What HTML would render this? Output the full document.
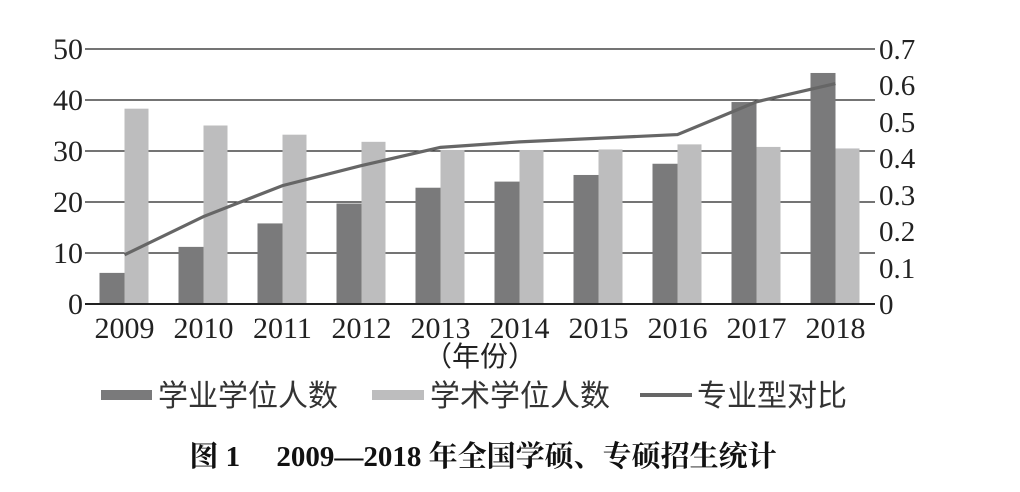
<!DOCTYPE html>
<html><head><meta charset="utf-8"><style>
html,body{margin:0;padding:0;background:#fff;width:1020px;height:492px;overflow:hidden}
</style></head><body>
<svg width="1020" height="492" xmlns="http://www.w3.org/2000/svg" font-family="'Liberation Serif','Noto Serif CJK SC',serif">
<g stroke="#222" stroke-width="1.3">
<line x1="85" y1="49" x2="875" y2="49"/>
<line x1="85" y1="100" x2="875" y2="100"/>
<line x1="85" y1="151" x2="875" y2="151"/>
<line x1="85" y1="202" x2="875" y2="202"/>
<line x1="85" y1="253" x2="875" y2="253"/>
</g>
<g id="bars"></g>
<line x1="85" y1="304" x2="875" y2="304" stroke="#222" stroke-width="2"/>
<polyline id="ln" fill="none" stroke="#666" stroke-width="3.2"/>
<g font-size="30" fill="#222" text-anchor="end">
<text x="83" y="59">50</text><text x="83" y="110">40</text><text x="83" y="161">30</text>
<text x="83" y="212">20</text><text x="83" y="263">10</text><text x="83" y="314">0</text>
</g>
<g font-size="29" fill="#222">
<text x="879" y="59">0.7</text><text x="879" y="95">0.6</text><text x="879" y="132">0.5</text>
<text x="879" y="168">0.4</text><text x="879" y="205">0.3</text><text x="879" y="241">0.2</text>
<text x="879" y="278">0.1</text><text x="879" y="314">0</text>
</g>
<g id="yrs" font-size="30" fill="#222" text-anchor="middle"></g>
<text x="480" y="366" font-size="28" fill="#222" text-anchor="middle" font-family="'Liberation Sans','Noto Sans CJK SC',sans-serif">（年份）</text>
<g font-family="'Liberation Sans','Noto Sans CJK SC',sans-serif" font-size="30" fill="#333">
<rect x="101" y="390" width="51" height="10" fill="#7a7a7b"/>
<text x="158" y="406">学业学位人数</text>
<rect x="372" y="390" width="52" height="10" fill="#bdbdbe"/>
<text x="430" y="406">学术学位人数</text>
<rect x="640" y="393" width="52" height="4" fill="#666"/>
<text x="697" y="406">专业型对比</text>
</g>
<text x="483" y="466" font-size="29" font-weight="bold" fill="#111" text-anchor="middle" font-family="'Liberation Serif','Noto Serif CJK SC',serif">图 1　 2009—2018 年全国学硕、专硕招生统计</text>
<script>
var d=[6.1,11.2,15.8,19.7,22.8,24,25.3,27.5,39.6,45.3],
l=[38.3,35,33.2,31.8,30.2,30.2,30.3,31.3,30.8,30.5],
r=[0.135,0.24,0.325,0.38,0.43,0.445,0.455,0.465,0.555,0.605];
var g=document.getElementById('bars'),y=document.getElementById('yrs'),pts=[],ns='http://www.w3.org/2000/svg';
for(var i=0;i<10;i++){var c=85+79*(i+0.5);
var a=document.createElementNS(ns,'rect');a.setAttribute('x',c-25);a.setAttribute('width',25);a.setAttribute('y',304-d[i]*5.1);a.setAttribute('height',d[i]*5.1);a.setAttribute('fill','#7a7a7b');g.appendChild(a);
var b=document.createElementNS(ns,'rect');b.setAttribute('x',c);b.setAttribute('width',24);b.setAttribute('y',304-l[i]*5.1);b.setAttribute('height',l[i]*5.1);b.setAttribute('fill','#bdbdbe');g.appendChild(b);
pts.push(c+','+(304-r[i]*364.3));
var t=document.createElementNS(ns,'text');t.setAttribute('x',c);t.setAttribute('y',338);t.textContent=2009+i;y.appendChild(t);}
document.getElementById('ln').setAttribute('points',pts.join(' '));
</script>
</svg>
</body></html>
